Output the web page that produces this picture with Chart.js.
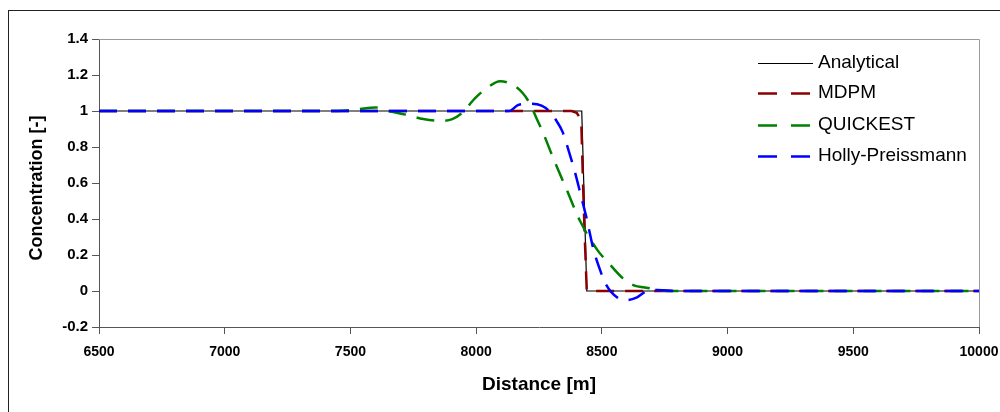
<!DOCTYPE html>
<html>
<head>
    <title>Concentration vs Distance</title>
    <script src="https://cdn.jsdelivr.net/npm/chart.js@4.4.0/dist/chart.umd.min.js"></script>
    <style>
        body { margin: 0; background: #fff; }
        #wrap { width: 1000px; height: 412px; }
    </style>
</head>
<body>
    <div id="wrap"><canvas id="concChart" width="1000" height="412"></canvas></div>

    <script>
        // Series (distance in m, concentration in -)
        const analyticalX = [6500, 8420, 8440, 10000];
        const analyticalY = [1, 1, 0, 0];

        const mdpmX = [6500, 8380, 8400, 8418, 8425, 8432, 8440, 10000];
        const mdpmY = [1, 1, 0.99, 0.95, 0.6, 0.3, 0, 0];

        const quickestX = [6500, 7450, 7530, 7600, 7650, 7720, 7790, 7860, 7905, 7945, 7995, 8045, 8095, 8140, 8185, 8214, 8240, 8266, 8306, 8361, 8413, 8481, 8530, 8584, 8630, 8670, 8710, 8760, 10000];
        const quickestY = [1, 1, 1.01, 1.02, 1.0, 0.98, 0.955, 0.945, 0.955, 0.99, 1.07, 1.13, 1.165, 1.15, 1.10, 1.04, 0.96, 0.88, 0.74, 0.56, 0.39, 0.23, 0.15, 0.07, 0.03, 0.02, 0.01, 0, 0];

        const hollyX = [6500, 8130, 8170, 8220, 8260, 8290, 8322, 8345, 8370, 8393, 8415, 8440, 8465, 8492, 8515, 8560, 8600, 8640, 8680, 8720, 8800, 10000];
        const hollyY = [1, 1, 1.035, 1.04, 1.03, 1.0, 0.94, 0.88, 0.77, 0.66, 0.54, 0.40, 0.24, 0.12, 0.04, -0.035, -0.05, -0.035, 0, 0.005, 0, 0];

        const xMin = 6500, xMax = 10000, xStep = 500;
        const yMin = -0.2, yMax = 1.4, yStep = 0.2;

        function toPoints(xs, ys) {
            return xs.map((x, i) => ({ x: x, y: ys[i] }));
        }

        Chart.defaults.font.family = '"Liberation Sans", Arial, sans-serif';
        Chart.defaults.color = '#000';

        const dash = [18, 11];

        // frame, outer border, axis titles and in-plot legend
        const decorations = {
            id: 'decorations',
            beforeDatasetsDraw(chart) {
                const { ctx, chartArea: a } = chart;
                ctx.save();
                ctx.strokeStyle = '#9a9a9a';
                ctx.lineWidth = 1;
                ctx.beginPath();
                ctx.moveTo(a.left, a.top + 0.5);
                ctx.lineTo(a.right + 0.5, a.top + 0.5);
                ctx.lineTo(a.right + 0.5, a.bottom);
                ctx.stroke();
                ctx.restore();
            },
            afterDraw(chart) {
                const { ctx, chartArea: a } = chart;
                ctx.save();
                // outer chart border
                ctx.strokeStyle = '#222';
                ctx.lineWidth = 1;
                ctx.strokeRect(8.5, 10.5, 1100, 500);

                // axis titles
                ctx.fillStyle = '#000';
                ctx.textAlign = 'center';
                ctx.textBaseline = 'middle';
                ctx.font = 'bold 19px "Liberation Sans", Arial, sans-serif';
                ctx.fillText('Distance [m]', (a.left + a.right) / 2, 385);
                ctx.font = 'bold 18px "Liberation Sans", Arial, sans-serif';
                ctx.save();
                ctx.translate(37, 188);
                ctx.rotate(-Math.PI / 2);
                ctx.fillText('Concentration [-]', 0, 0);
                ctx.restore();

                // legend
                ctx.font = '19px "Liberation Sans", Arial, sans-serif';
                ctx.textAlign = 'left';
                const rows = [63, 93, 125, 156];
                chart.data.datasets.forEach((ds, i) => {
                    const y = rows[i];
                    ctx.strokeStyle = ds.borderColor;
                    ctx.lineWidth = ds.borderWidth;
                    ctx.setLineDash(ds.borderDash ? [19, 14] : []);
                    ctx.beginPath();
                    ctx.moveTo(758, y + 0.5);
                    ctx.lineTo(813, y + 0.5);
                    ctx.stroke();
                    ctx.setLineDash([]);
                    ctx.fillStyle = '#000';
                    ctx.fillText(ds.label, 818, y);
                });
                ctx.restore();
            }
        };

        const ctx = document.getElementById('concChart').getContext('2d');
        const chart = new Chart(ctx, {
            type: 'line',
            data: {
                datasets: [{
                    label: 'Analytical',
                    data: toPoints(analyticalX, analyticalY),
                    borderColor: '#000000',
                    borderWidth: 1.2,
                    order: 3
                }, {
                    label: 'MDPM',
                    data: toPoints(mdpmX, mdpmY),
                    borderColor: '#8b0000',
                    borderWidth: 2.5,
                    borderDash: dash,
                    order: 2
                }, {
                    label: 'QUICKEST',
                    data: toPoints(quickestX, quickestY),
                    borderColor: '#008000',
                    borderWidth: 2.5,
                    borderDash: dash,
                    cubicInterpolationMode: 'monotone',
                    order: 1
                }, {
                    label: 'Holly-Preissmann',
                    data: toPoints(hollyX, hollyY),
                    borderColor: '#0000ff',
                    borderWidth: 2.5,
                    borderDash: dash,
                    cubicInterpolationMode: 'monotone',
                    order: 0
                }]
            },
            options: {
                responsive: false,
                animation: false,
                events: [],
                elements: { point: { radius: 0 } },
                layout: { padding: { top: 39, left: 0, right: 21, bottom: 0 } },
                plugins: {
                    legend: { display: false },
                    tooltip: { enabled: false }
                },
                scales: {
                    x: {
                        type: 'linear',
                        min: xMin,
                        max: xMax,
                        ticks: {
                            stepSize: xStep,
                            padding: 10,
                            font: { size: 14, weight: 'bold' },
                            callback: v => String(v),
                            maxRotation: 0,
                            autoSkip: false
                        },
                        grid: { drawOnChartArea: false, tickLength: 7, color: '#555' },
                        border: { color: '#555', width: 1 },
                        afterFit(scale) {
                            scale.height = 85;
                            scale.paddingLeft = 0;
                            scale.paddingRight = 0;
                        }
                    },
                    y: {
                        min: yMin,
                        max: yMax,
                        ticks: {
                            stepSize: yStep,
                            padding: 4,
                            font: { size: 15, weight: 'bold' },
                            callback: v => String(+v.toFixed(1))
                        },
                        grid: { drawOnChartArea: false, tickLength: 7, color: '#555' },
                        border: { color: '#555', width: 1 },
                        afterFit(scale) {
                            scale.width = 99;
                            scale.paddingTop = 0;
                            scale.paddingBottom = 0;
                        }
                    }
                }
            },
            plugins: [decorations]
        });
    </script>
</body>
</html>
